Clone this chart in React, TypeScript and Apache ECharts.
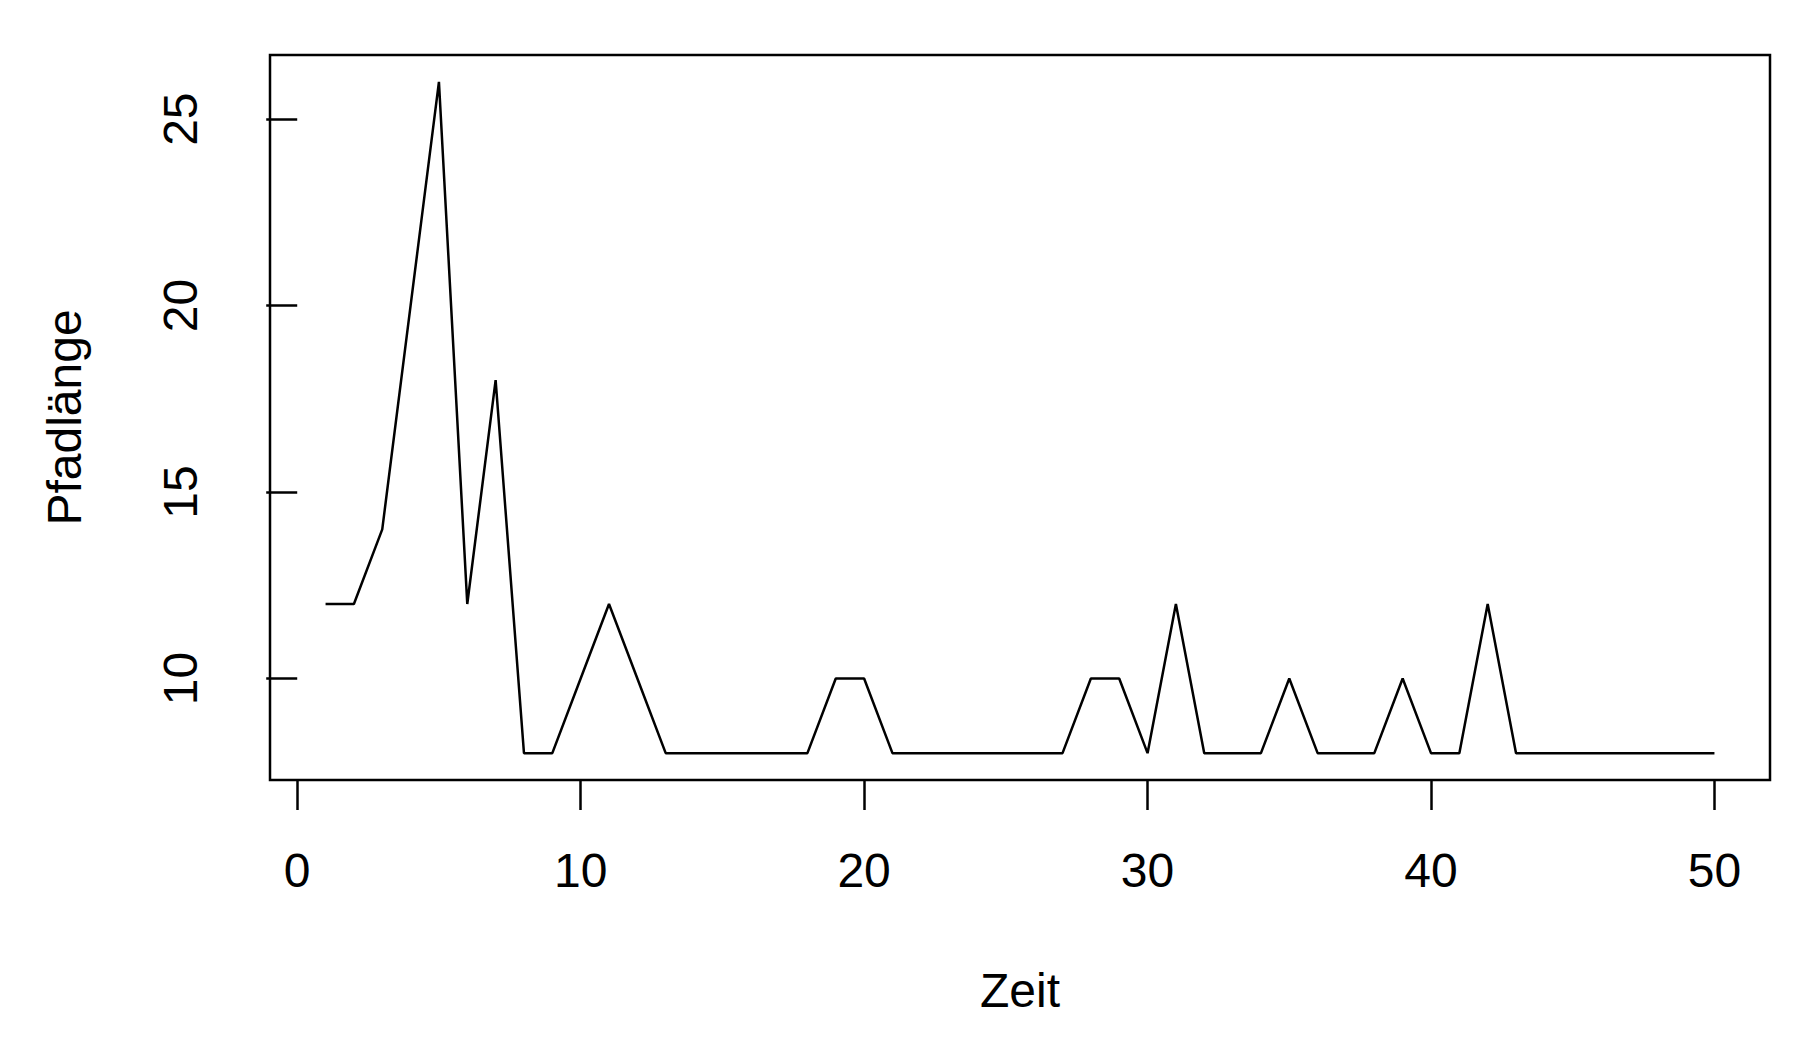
import React, { useEffect, useRef } from "react";
import * as echarts from "echarts";

const zeit = [
  1, 2, 3, 4, 5, 6, 7, 8, 9, 10, 11, 12, 13, 14, 15, 16, 17, 18, 19, 20, 21, 22, 23, 24, 25,
  26, 27, 28, 29, 30, 31, 32, 33, 34, 35, 36, 37, 38, 39, 40, 41, 42, 43, 44, 45, 46, 47, 48, 49, 50,
];
const pfadlaenge = [
  12, 12, 14, 20, 26, 12, 18, 8, 8, 10,
  12, 10, 8, 8, 8, 8, 8, 8, 10, 10,
  8, 8, 8, 8, 8, 8, 8, 10, 10, 8,
  12, 8, 8, 8, 10, 8, 8, 8, 10, 8,
  8, 12, 8, 8, 8, 8, 8, 8, 8, 8,
];
const xTicks = [0, 10, 20, 30, 40, 50];
const yTicks = [10, 15, 20, 25];

const FONT = "'Liberation Sans', Arial, Helvetica, sans-serif";

export default function App() {
  const ref = useRef<HTMLDivElement>(null);
  useEffect(() => {
    document.body.style.margin = "0";
    if (!ref.current) return;
    const chart = echarts.init(ref.current, null, { renderer: "svg" });
    const xMin = 1, xMax = 50, yMin = 8, yMax = 26;
    const xPad = (xMax - xMin) * 0.04;
    const yPad = (yMax - yMin) * 0.04;
    chart.setOption({
      animation: false,
      backgroundColor: "#ffffff",
      grid: {
        left: 270,
        top: 55,
        right: 48,
        bottom: 260,
        show: true,
        borderColor: "#000",
        borderWidth: 2.5,
        backgroundColor: "transparent",
      },
      xAxis: {
        type: "value",
        min: xMin - xPad,
        max: xMax + xPad,
        name: "Zeit",
        nameLocation: "middle",
        nameGap: 186,
        nameTextStyle: { fontSize: 48, color: "#000", fontFamily: FONT },
        axisLine: { show: false },
        splitLine: { show: false },
        axisTick: {
          show: true,
          customValues: xTicks,
          length: 30,
          lineStyle: { color: "#000", width: 2.5 },
        },
        axisLabel: {
          show: true,
          customValues: xTicks,
          fontSize: 48,
          color: "#000",
          fontFamily: FONT,
          margin: 66,
        },
      },
      yAxis: {
        type: "value",
        min: yMin - yPad,
        max: yMax + yPad,
        name: "Pfadlänge",
        nameLocation: "middle",
        nameGap: 182,
        nameTextStyle: { fontSize: 48, color: "#000", fontFamily: FONT },
        axisLine: { show: false },
        splitLine: { show: false },
        axisTick: {
          show: true,
          customValues: yTicks,
          length: 31,
          lineStyle: { color: "#000", width: 2.5 },
        },
        axisLabel: {
          show: true,
          customValues: yTicks,
          rotate: 90,
          fontSize: 48,
          color: "#000",
          fontFamily: FONT,
          margin: 66,
        },
      },
      series: [
        {
          type: "line",
          data: zeit.map((x, i) => [x, pfadlaenge[i]]),
          symbol: "none",
          lineStyle: { color: "#000", width: 2.5 },
        },
      ],
    });
    return () => chart.dispose();
  }, []);
  return <div ref={ref} style={{ width: 1818, height: 1040 }} />;
}
